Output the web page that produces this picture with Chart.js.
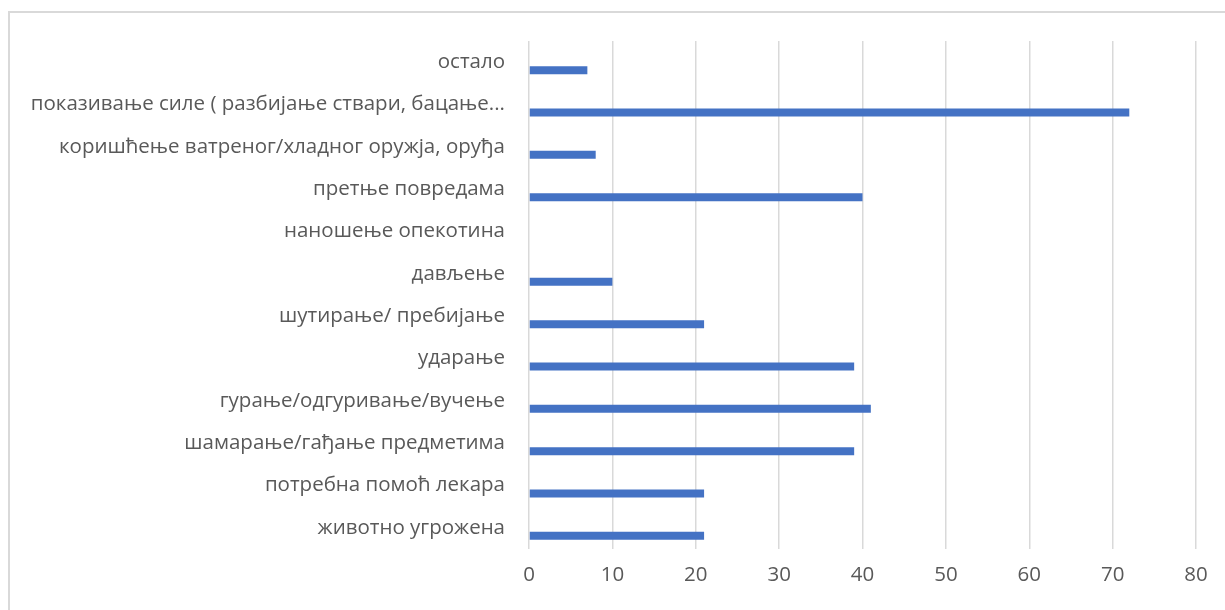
<!DOCTYPE html>
<html>
<head>
<meta charset="utf-8">
<script src="https://cdn.jsdelivr.net/npm/chart.js@4/dist/chart.umd.min.js"></script>
<style>
  html, body { margin: 0; padding: 0; background: #fff; overflow: hidden; }
  #wrap { position: relative; width: 1225px; height: 610px; }
  #frame {
    position: absolute; left: 8px; top: 11px; width: 1400px; height: 800px;
    border: 2px solid #d9d9d9; box-sizing: border-box; pointer-events: none;
  }
  canvas { position: absolute; left: 0; top: 0; }
</style>
</head>
<body>
<div id="wrap">
  <div id="frame"></div>
  <canvas id="chart" width="1225" height="610"></canvas>
</div>
<script>
// Categories, top to bottom
const categories = [
  'остало',
  'показивање силе ( разбијање ствари, бацање...',
  'коришћење ватреног/хладног оружја, оруђа',
  'претње повредама',
  'наношење опекотина',
  'дављење',
  'шутирање/ пребијање',
  'ударање',
  'гурање/одгуривање/вучење',
  'шамарање/гађање предметима',
  'потребна помоћ лекара',
  'животно угрожена'
];

// Number of cases per category
const counts = [7, 72, 8, 40, 0, 10, 21, 39, 41, 39, 21, 21];

// Value axis
const axisMin = 0;
const axisMax = 80;
const axisStep = 10;

const textColor = '#595959';
const gridColor = '#d9d9d9';
const barColor = '#4472c4';
const labelFont = { family: "'Open Sans', 'Noto Sans', sans-serif", size: 20.5 };

new Chart(document.getElementById('chart'), {
  type: 'bar',
  data: {
    labels: categories,
    datasets: [
      // second series of the sheet, with no values
      { label: '', data: [], backgroundColor: barColor },
      {
        label: 'број',
        data: counts,
        backgroundColor: barColor,
        borderWidth: 0,
        inflateAmount: 0
      }
    ]
  },
  options: {
    indexAxis: 'y',
    responsive: false,
    animation: false,
    datasets: { bar: { categoryPercentage: 0.756, barPercentage: 0.5 } },
    layout: { padding: { left: 0, top: 41, right: 29, bottom: 0 } },
    plugins: {
      legend: { display: false },
      tooltip: { enabled: false }
    },
    scales: {
      x: {
        min: axisMin,
        max: axisMax,
        ticks: {
          stepSize: axisStep,
          color: textColor,
          font: labelFont,
          padding: 14
        },
        grid: { color: gridColor, lineWidth: 1.5, drawTicks: false },
        border: { display: false },
        afterFit(scale) { scale.height = 61; }
      },
      y: {
        ticks: {
          color: textColor,
          font: labelFont,
          padding: 24,
          autoSkip: false
        },
        grid: { display: false, drawTicks: false },
        border: { display: false },
        afterFit(scale) { scale.width = 529; }
      }
    }
  }
});
</script>
</body>
</html>
